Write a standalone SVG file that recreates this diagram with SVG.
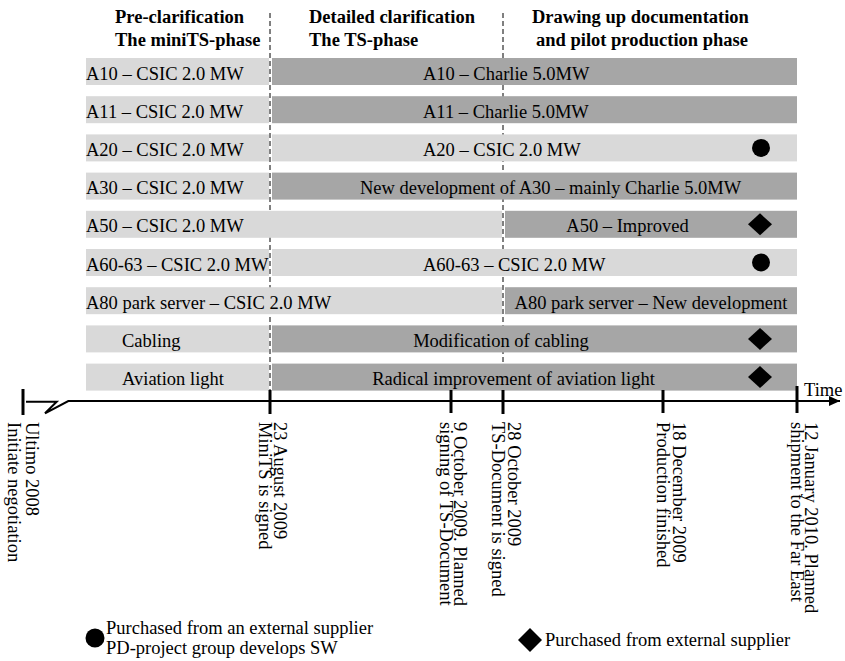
<svg xmlns="http://www.w3.org/2000/svg" width="845" height="661" viewBox="0 0 845 661">
<defs>
<style>
text{font-family:"Liberation Serif","Times New Roman",serif;font-size:18.5px;fill:#000}
.hd{font-weight:bold}
.lt{fill:#d9d9d9}
.dk{fill:#a6a6a6}
.dash{stroke:#000;stroke-width:1;stroke-dasharray:5 3;fill:none}
.axis{stroke:#000;stroke-width:2;fill:none}
.tick{stroke:#000;stroke-width:3}
.mk{fill:#000}
</style>
<marker id="arr" markerWidth="12" markerHeight="10" refX="11" refY="5" orient="auto" markerUnits="userSpaceOnUse">
<path d="M0,0 L11,5 L0,10 Z" fill="#000"/>
</marker>
</defs>
<rect width="845" height="661" fill="#fff"/>

<g id="phase-lines">
<line class="dash" x1="270" y1="13" x2="270" y2="390"/>
<line class="dash" x1="503" y1="13" x2="503" y2="390"/>
</g>

<g id="phases">
<text class="hd" x="115" y="23">Pre-clarification</text>
<text class="hd" x="115" y="46">The miniTS-phase</text>
<text class="hd" x="309" y="23">Detailed clarification</text>
<text class="hd" x="309" y="46">The TS-phase</text>
<text class="hd" x="532" y="23">Drawing up documentation</text>
<text class="hd" x="536" y="46">and pilot production phase</text>
</g>

<g id="row-a10">
<rect class="lt" x="86" y="58" width="183" height="27"/>
<rect class="dk" x="272" y="58" width="525" height="27"/>
<text x="86" y="79.5">A10 – CSIC 2.0 MW</text>
<text x="423" y="79.5">A10 – Charlie 5.0MW</text>
</g>
<g id="row-a11">
<rect class="lt" x="86" y="96.2" width="183" height="27"/>
<rect class="dk" x="272" y="96.2" width="525" height="27"/>
<text x="86" y="117.7">A11 – CSIC 2.0 MW</text>
<text x="423" y="117.7">A11 – Charlie 5.0MW</text>
</g>
<g id="row-a20">
<rect class="lt" x="86" y="134.4" width="183" height="27"/>
<rect class="lt" x="272" y="134.4" width="525" height="27"/>
<text x="86" y="155.9">A20 – CSIC 2.0 MW</text>
<text x="423" y="155.9">A20 – CSIC 2.0 MW</text>
<circle class="mk" cx="761" cy="147.9" r="9"/>
</g>
<g id="row-a30">
<rect class="lt" x="86" y="172.6" width="183" height="27"/>
<rect class="dk" x="272" y="172.6" width="525" height="27"/>
<text x="86" y="194.1">A30 – CSIC 2.0 MW</text>
<text x="360" y="194.1">New development of A30 – mainly Charlie 5.0MW</text>
</g>
<g id="row-a50">
<rect class="lt" x="86" y="210.8" width="416" height="27"/>
<rect class="dk" x="505" y="210.8" width="292" height="27"/>
<text x="86" y="232.3">A50 – CSIC 2.0 MW</text>
<text x="627.5" y="232.3" text-anchor="middle">A50 – Improved</text>
<path class="mk" d="M760,213.3 L772,224.3 L760,235.3 L748,224.3 Z"/>
</g>
<g id="row-a60">
<rect class="lt" x="86" y="249" width="183" height="27"/>
<rect class="lt" x="272" y="249" width="525" height="27"/>
<text x="86" y="270.5">A60-63 – CSIC 2.0 MW</text>
<text x="423" y="270.5">A60-63 – CSIC 2.0 MW</text>
<circle class="mk" cx="761" cy="262.5" r="9"/>
</g>
<g id="row-a80">
<rect class="lt" x="86" y="287.2" width="416" height="27"/>
<rect class="dk" x="505" y="287.2" width="292" height="27"/>
<text x="86" y="308.7">A80 park server – CSIC 2.0 MW</text>
<text x="651" y="308.7" text-anchor="middle">A80 park server – New development</text>
</g>
<g id="row-cabling">
<rect class="lt" x="86" y="325.4" width="183" height="27"/>
<rect class="dk" x="272" y="325.4" width="525" height="27"/>
<text x="122" y="346.9">Cabling</text>
<text x="501" y="346.9" text-anchor="middle">Modification of cabling</text>
<path class="mk" d="M760,327.9 L772,338.9 L760,349.9 L748,338.9 Z"/>
</g>
<g id="row-aviation">
<rect class="lt" x="86" y="363.6" width="183" height="27"/>
<rect class="dk" x="272" y="363.6" width="525" height="27"/>
<text x="122" y="385.1">Aviation light</text>
<text x="513.5" y="385.1" text-anchor="middle">Radical improvement of aviation light</text>
<path class="mk" d="M760,366.1 L772,377.1 L760,388.1 L748,377.1 Z"/>
</g>

<g id="connectors">
<path class="axis" d="M26,401.7 L56.7,401.7 L45,413.3 L68.3,401 L840,401" marker-end="url(#arr)"/>
<line class="tick" x1="23" y1="389" x2="23" y2="415"/>
<line class="tick" x1="270" y1="390" x2="270" y2="414"/>
<line class="tick" x1="451" y1="390" x2="451" y2="413"/>
<line class="tick" x1="503" y1="390" x2="503" y2="414"/>
<line class="tick" x1="663" y1="390" x2="663" y2="413"/>
<line class="tick" x1="797" y1="386" x2="797" y2="413"/>
</g>
<text id="time-label" x="804" y="396">Time</text>

<g id="milestone-2008">
<text transform="translate(25.5,422) rotate(90)"><tspan x="0" y="0">Ultimo 2008</tspan><tspan x="0" dy="17.5">Initiate negotiation</tspan></text>
</g>
<g id="milestone-aug2009">
<text transform="translate(273.5,422) rotate(90)"><tspan x="0" y="0">23 August 2009</tspan><tspan x="0" dy="15">MiniTS is signed</tspan></text>
</g>
<g id="milestone-oct9">
<text transform="translate(454,422) rotate(90)"><tspan x="0" y="0">9 October 2009. Planned</tspan><tspan x="0" dy="14.5">signing of TS-Document</tspan></text>
</g>
<g id="milestone-oct28">
<text transform="translate(508.3,422) rotate(90)"><tspan x="0" y="0">28 October 2009</tspan><tspan x="0" dy="16.5">TS-Document is signed</tspan></text>
</g>
<g id="milestone-dec18">
<text transform="translate(673.3,422) rotate(90)"><tspan x="0" y="0">18 December 2009</tspan><tspan x="0" dy="16.5">Production finished</tspan></text>
</g>
<g id="milestone-jan12">
<text transform="translate(805,422) rotate(90)"><tspan x="0" y="0">12 January 2010. Planned</tspan><tspan x="0" dy="14.5">shipment to the Far East</tspan></text>
</g>

<g id="legend-circle">
<circle class="mk" cx="95" cy="638" r="9.5"/>
<text x="106" y="634">Purchased from an external supplier</text>
<text x="106" y="654">PD-project group develops SW</text>
</g>
<g id="legend-diamond">
<path class="mk" d="M530,628 L542,640 L530,652 L518,640 Z"/>
<text x="545" y="646">Purchased from external supplier</text>
</g>
</svg>
